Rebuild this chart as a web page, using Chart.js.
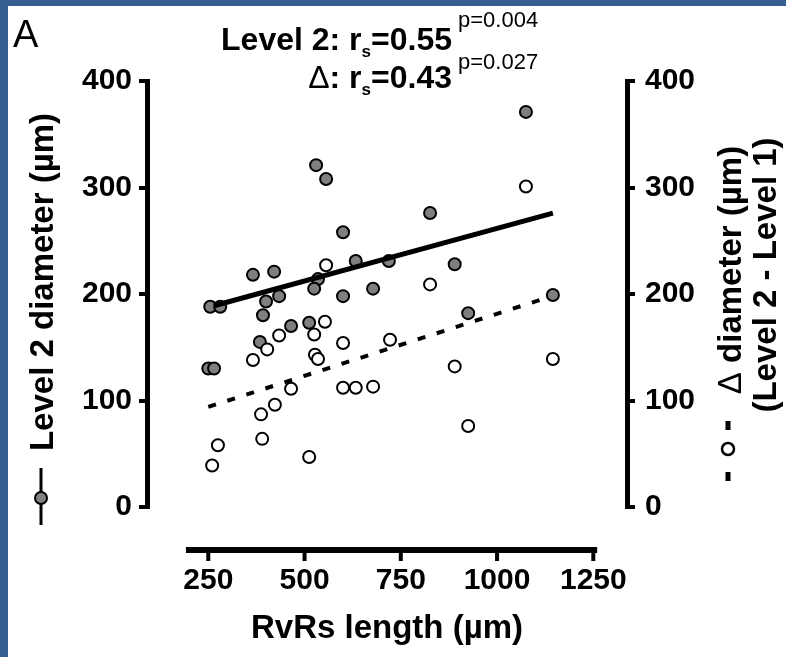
<!DOCTYPE html>
<html>
<head>
<meta charset="utf-8">
<script src="https://cdn.jsdelivr.net/npm/chart.js"></script>
<style>
  html, body { margin: 0; padding: 0; }
  body { background: #365f91; width: 786px; height: 657px; overflow: hidden; }
  .chart-box { position: absolute; left: 8px; top: 6px; width: 778px; height: 651px; background: #fff; }
</style>
</head>
<body>
<div class="chart-box"><canvas id="myChart"></canvas></div>
<script>
// Level 2 diameter (filled) and delta diameter (open) vs RvRs length
const level2X = [1075, 530, 556, 600, 826, 366, 421, 633, 719, 535, 525, 600, 678, 400, 434, 392, 512, 465, 384, 890, 1145, 925, 255, 281, 250, 265]
const level2Y = [371, 321, 308, 258, 276, 218, 221, 231, 231, 214, 205, 198, 205, 193, 198, 180, 173, 170, 155, 228, 199, 182, 188, 188, 130, 130]
const deltaX = [1075, 556, 826, 553, 434, 525, 403, 600, 722, 527, 535, 366, 465, 600, 633, 678, 423, 387, 390, 512, 890, 1145, 925, 275, 260]
const deltaY = [301, 227, 209, 174, 161, 162, 148, 154, 157, 143, 139, 138, 111, 112, 112, 113, 96, 87, 64, 47, 132, 139, 76, 58, 39]
const fitLevel2X = [265, 1145]
const fitLevel2Y = [189, 276]
const fitDeltaX = [250, 1125]
const fitDeltaY = [94, 196]
const xTicks = [250, 500, 750, 1000, 1250]
const yTicks = [0, 100, 200, 300, 400]
const xAxisRange = [192, 1260]

const FONT = '"Liberation Sans", Arial, Helvetica, sans-serif'
Chart.defaults.font.family = FONT
Chart.defaults.color = "#000"

const toPoints = (xs, ys) => xs.map((x, i) => ({ x: x, y: ys[i] }))

// draws a row of text pieces ending at rightX
function drawPieces(ctx, pieces, rightX, baseline) {
  let total = 0
  pieces.forEach((p) => {
    ctx.font = p.font
    total += ctx.measureText(p.text).width
  })
  let x = rightX - total
  ctx.textAlign = "left"
  ctx.textBaseline = "alphabetic"
  pieces.forEach((p) => {
    ctx.font = p.font
    ctx.fillText(p.text, x, baseline + (p.dy || 0))
    x += ctx.measureText(p.text).width
  })
}

const decorPlugin = {
  id: "decor",
  afterDraw(chart) {
    const ctx = chart.ctx
    const xs = chart.scales.x
    ctx.save()
    ctx.fillStyle = "#000"
    ctx.strokeStyle = "#000"

    // bottom axis, drawn below the plot like the original
    const axisY = 544
    ctx.lineWidth = 6
    ctx.beginPath()
    ctx.moveTo(xs.getPixelForValue(xAxisRange[0]), axisY)
    ctx.lineTo(xs.getPixelForValue(xAxisRange[1]), axisY)
    ctx.stroke()
    ctx.lineWidth = 4
    xTicks.forEach((v) => {
      const px = xs.getPixelForValue(v)
      ctx.beginPath()
      ctx.moveTo(px, axisY)
      ctx.lineTo(px, axisY + 11)
      ctx.stroke()
    })

    // panel letter
    ctx.font = "38px " + FONT
    ctx.textAlign = "left"
    ctx.textBaseline = "alphabetic"
    ctx.fillText("A", 5, 41)

    // correlation notes
    const big = "bold 32px " + FONT
    const sub = "bold 17px " + FONT
    const pf = "22px " + FONT
    drawPieces(ctx, [
      { text: "Level 2: r", font: big },
      { text: "s", font: sub, dy: 7 },
      { text: "=0.55", font: big },
    ], 444, 44)
    drawPieces(ctx, [
      { text: "\u0394", font: "32px " + FONT },
      { text: ": r", font: big },
      { text: "s", font: sub, dy: 7 },
      { text: "=0.43", font: big },
    ], 444, 82)
    ctx.font = pf
    ctx.textAlign = "left"
    ctx.fillText("p=0.004", 450, 21)
    ctx.fillText("p=0.027", 450, 63)

    // left axis title + symbol
    const tf = "bold 33px " + FONT
    ctx.save()
    ctx.translate(45, 276)
    ctx.rotate(-Math.PI / 2)
    ctx.font = tf
    ctx.textAlign = "center"
    ctx.fillText("Level 2 diameter (\u00b5m)", 0, 0)
    ctx.restore()
    ctx.lineWidth = 3
    ctx.beginPath()
    ctx.moveTo(33, 462)
    ctx.lineTo(33, 519)
    ctx.stroke()
    ctx.beginPath()
    ctx.arc(33, 492, 6, 0, Math.PI * 2)
    ctx.fillStyle = "#808080"
    ctx.fill()
    ctx.lineWidth = 2
    ctx.stroke()
    ctx.fillStyle = "#000"

    // right axis title (reads upward) + symbol
    ctx.save()
    ctx.translate(733, 264)
    ctx.rotate(-Math.PI / 2)
    ctx.font = "33px " + FONT
    const wD = ctx.measureText("\u0394").width
    ctx.font = tf
    const rest = " diameter (\u00b5m)"
    const wR = ctx.measureText(rest).width
    const sx = -(wD + wR) / 2
    ctx.textAlign = "left"
    ctx.font = "33px " + FONT
    ctx.fillText("\u0394", sx, 0)
    ctx.font = tf
    ctx.fillText(rest, sx + wD, 0)
    ctx.restore()
    ctx.save()
    ctx.translate(768, 269)
    ctx.rotate(-Math.PI / 2)
    ctx.font = tf
    ctx.textAlign = "center"
    ctx.fillText("(Level 2 - Level 1)", 0, 0)
    ctx.restore()
    ctx.lineWidth = 5
    ctx.beginPath()
    ctx.moveTo(720, 415)
    ctx.lineTo(720, 424)
    ctx.moveTo(720, 466)
    ctx.lineTo(720, 475)
    ctx.stroke()
    ctx.beginPath()
    ctx.arc(720, 443, 6, 0, Math.PI * 2)
    ctx.fillStyle = "#fff"
    ctx.fill()
    ctx.lineWidth = 2.5
    ctx.stroke()
    ctx.restore()
  },
}

const yScale = (pos, pad, width) => ({
  type: "linear",
  position: pos,
  min: 0,
  max: 400,
  afterBuildTicks: (s) => {
    s.ticks = yTicks.map((v) => ({ value: v }))
  },
  afterFit: (s) => {
    s.width = width
  },
  grid: { drawOnChartArea: false, drawTicks: true, tickLength: 8, lineWidth: 4, color: "#000" },
  border: { display: true, color: "#000", width: 5 },
  ticks: { font: { size: 30, weight: "bold" }, color: "#000", padding: pad },
})

const ctx = document.getElementById("myChart")
new Chart(ctx, {
  type: "scatter",
  data: {
    datasets: [
      {
        label: "Level 2 fit",
        data: toPoints(fitLevel2X, fitLevel2Y),
        showLine: true,
        pointRadius: 0,
        borderColor: "#000",
        borderWidth: 5,
        yAxisID: "y",
        order: 0,
      },
      {
        label: "Delta fit",
        data: toPoints(fitDeltaX, fitDeltaY),
        showLine: true,
        pointRadius: 0,
        borderColor: "#000",
        borderWidth: 4,
        borderDash: [8, 12],
        yAxisID: "y2",
        order: 1,
      },
      {
        label: "Delta diameter",
        data: toPoints(deltaX, deltaY),
        pointRadius: 6,
        backgroundColor: "#fff",
        borderColor: "#000",
        borderWidth: 2,
        yAxisID: "y2",
        order: 2,
      },
      {
        label: "Level 2 diameter",
        data: toPoints(level2X, level2Y),
        pointRadius: 6,
        backgroundColor: "#7f7f7f",
        borderColor: "#000",
        borderWidth: 2,
        yAxisID: "y",
        order: 3,
      },
    ],
  },
  options: {
    responsive: true,
    maintainAspectRatio: false,
    animation: false,
    devicePixelRatio: 1,
    layout: { padding: { top: 75, left: 0, right: 0, bottom: 0 } },
    plugins: {
      legend: { display: false },
      tooltip: { enabled: false },
    },
    scales: {
      x: {
        type: "linear",
        position: "bottom",
        min: 90.8,
        max: 1337.5,
        afterBuildTicks: (s) => {
          s.ticks = xTicks.map((v) => ({ value: v }))
        },
        afterFit: (s) => {
          s.height = 150
        },
        grid: { display: false },
        border: { display: false },
        ticks: {
          font: { size: 30, weight: "bold" },
          color: "#000",
          padding: 48,
          autoSkip: false,
          maxRotation: 0,
          callback: (v) => String(v),
        },
        title: {
          display: true,
          text: "RvRs length (\u00b5m)",
          font: { size: 33, weight: "bold" },
          color: "#000",
          padding: { top: 0, bottom: 8 },
        },
      },
      y: yScale("left", 7, 139),
      y2: yScale("right", 10, 159),
    },
  },
  plugins: [decorPlugin],
})
</script>
</body>
</html>
